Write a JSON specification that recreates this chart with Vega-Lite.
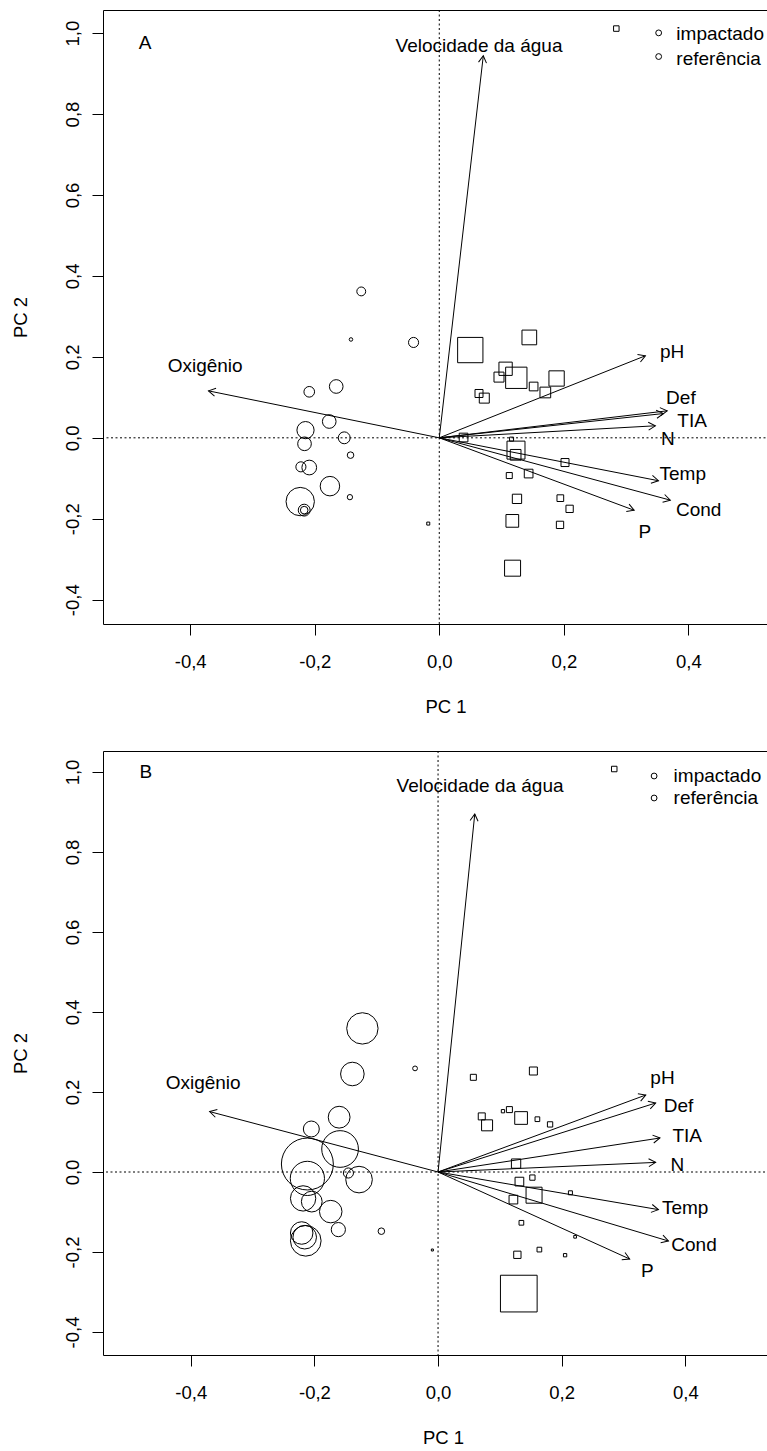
{
  "$schema": "https://vega.github.io/schema/vega-lite/v6.json",
  "padding": {"left": 10, "top": 9, "right": 0, "bottom": 0},
  "spacing": 33,
  "config": {
    "font": "Liberation Sans",
    "view": {"stroke": "black", "strokeWidth": 1},
    "axis": {"grid": false, "domain": false, "ticks": true, "tickSize": 11, "tickColor": "black", "tickWidth": 1, "labelColor": "black", "labelFontSize": 18.5, "titleColor": "black", "titleFontSize": 18.5, "titleFontWeight": "normal", "labelFont": "Liberation Sans", "titleFont": "Liberation Sans", "labelOverlap": false, "labelFlush": false, "labelBound": false,
      "labelExpr": "replace(replace(format(datum.value, '.1f'), '.', ','), '\u2212', '-')"},
    "axisX": {"labelPadding": 17, "titlePadding": 27},
    "axisY": {"labelAngle": -90, "labelAlign": "center", "labelBaseline": "bottom", "labelPadding": 10, "titlePadding": 33}
  },
  "datasets": {
    "refA": [
      {"x": -0.1253, "y": 0.3617, "tam": 10},
      {"x": -0.1418, "y": 0.243, "tam": 4},
      {"x": -0.0413, "y": 0.2356, "tam": 11.4},
      {"x": -0.1655, "y": 0.1268, "tam": 15.4},
      {"x": -0.2088, "y": 0.1137, "tam": 12},
      {"x": -0.1767, "y": 0.0403, "tam": 15.4},
      {"x": -0.2148, "y": 0.019, "tam": 19.4},
      {"x": -0.1526, "y": 0.0, "tam": 13.4},
      {"x": -0.2164, "y": -0.0148, "tam": 15.4},
      {"x": -0.1425, "y": -0.0428, "tam": 7.4},
      {"x": -0.2222, "y": -0.0717, "tam": 11.4},
      {"x": -0.2088, "y": -0.0734, "tam": 16.6},
      {"x": -0.1756, "y": -0.1194, "tam": 22},
      {"x": -0.1435, "y": -0.1466, "tam": 6},
      {"x": -0.2233, "y": -0.1575, "tam": 32},
      {"x": -0.2169, "y": -0.1787, "tam": 13.4},
      {"x": -0.2169, "y": -0.1787, "tam": 8.6}
    ],
    "impA": [
      {"x": 0.2843, "y": 1.0111, "tam": 5.5},
      {"x": 0.0498, "y": 0.2168, "tam": 25.3},
      {"x": 0.1446, "y": 0.248, "tam": 14.7},
      {"x": 0.1065, "y": 0.1706, "tam": 13.3},
      {"x": 0.1237, "y": 0.1483, "tam": 21.3},
      {"x": 0.0959, "y": 0.150, "tam": 10},
      {"x": 0.1515, "y": 0.1268, "tam": 8.7},
      {"x": 0.1884, "y": 0.1466, "tam": 15.3},
      {"x": 0.1703, "y": 0.112, "tam": 10.7},
      {"x": 0.0638, "y": 0.1095, "tam": 8},
      {"x": 0.0723, "y": 0.0981, "tam": 10},
      {"x": 0.039, "y": 0.0007, "tam": 8.7},
      {"x": 0.1161, "y": -0.0032, "tam": 4},
      {"x": 0.1232, "y": -0.0304, "tam": 18},
      {"x": 0.1226, "y": -0.042, "tam": 10.7},
      {"x": 0.2019, "y": -0.0611, "tam": 8},
      {"x": 0.1124, "y": -0.0932, "tam": 6},
      {"x": 0.1435, "y": -0.0883, "tam": 8.7},
      {"x": 0.1248, "y": -0.1508, "tam": 9.3},
      {"x": 0.1944, "y": -0.1491, "tam": 6.7},
      {"x": 0.2093, "y": -0.1755, "tam": 7.3},
      {"x": 0.1173, "y": -0.2052, "tam": 12.7},
      {"x": 0.1939, "y": -0.2151, "tam": 7.3},
      {"x": 0.1177, "y": -0.3221, "tam": 16},
      {"x": -0.0177, "y": -0.2119, "tam": 3}
    ],
    "arrA": [
      {"var": "Velocidade da água", "x": 0.0707, "y": 0.944},
      {"var": "Oxigênio", "x": -0.3706, "y": 0.116},
      {"var": "pH", "x": 0.331, "y": 0.2027},
      {"var": "Def", "x": 0.360, "y": 0.060},
      {"var": "TIA", "x": 0.366, "y": 0.0667},
      {"var": "N", "x": 0.347, "y": 0.0297},
      {"var": "Temp", "x": 0.352, "y": -0.106},
      {"var": "Cond", "x": 0.371, "y": -0.154},
      {"var": "P", "x": 0.313, "y": -0.179}
    ],
    "labA": [
      {"var": "Velocidade da água", "x": 0.0638, "y": 0.969},
      {"var": "Oxigênio", "x": -0.376, "y": 0.178},
      {"var": "pH", "x": 0.374, "y": 0.211},
      {"var": "Def", "x": 0.388, "y": 0.0996},
      {"var": "TIA", "x": 0.406, "y": 0.042},
      {"var": "N", "x": 0.367, "y": -0.003},
      {"var": "Temp", "x": 0.391, "y": -0.090},
      {"var": "Cond", "x": 0.4165, "y": -0.179},
      {"var": "P", "x": 0.330, "y": -0.232},
      {"var": "A", "x": -0.4723, "y": 0.9765}
    ],
    "legSymA": [
      {"x": 0.3523, "y": 1.0005},
      {"x": 0.3523, "y": 0.942}
    ],
    "legTxtA": [
      {"x": 0.3807, "y": 0.998, "grupo": "impactado"},
      {"x": 0.3807, "y": 0.936, "grupo": "referência"}
    ],
    "refB": [
      {"x": -0.1224, "y": 0.359, "tam": 35.4},
      {"x": -0.1386, "y": 0.245, "tam": 26.6},
      {"x": -0.0372, "y": 0.259, "tam": 5.4},
      {"x": -0.160, "y": 0.137, "tam": 24.6},
      {"x": -0.205, "y": 0.1075, "tam": 18},
      {"x": -0.1585, "y": 0.0575, "tam": 41.4},
      {"x": -0.2114, "y": 0.020, "tam": 58.6},
      {"x": -0.2114, "y": -0.016, "tam": 38.6},
      {"x": -0.145, "y": -0.0025, "tam": 11.4},
      {"x": -0.1278, "y": -0.019, "tam": 30},
      {"x": -0.2183, "y": -0.066, "tam": 28.6},
      {"x": -0.2043, "y": -0.074, "tam": 23.4},
      {"x": -0.1736, "y": -0.099, "tam": 25.4},
      {"x": -0.1613, "y": -0.144, "tam": 16},
      {"x": -0.2206, "y": -0.1525, "tam": 25.4},
      {"x": -0.214, "y": -0.172, "tam": 34.6},
      {"x": -0.2157, "y": -0.163, "tam": 26.6},
      {"x": -0.0917, "y": -0.148, "tam": 7.4}
    ],
    "impB": [
      {"x": 0.285, "y": 1.0075, "tam": 5.5},
      {"x": 0.1542, "y": 0.2525, "tam": 8},
      {"x": 0.0571, "y": 0.2367, "tam": 6},
      {"x": 0.0707, "y": 0.139, "tam": 7},
      {"x": 0.0793, "y": 0.1167, "tam": 11},
      {"x": 0.1154, "y": 0.156, "tam": 6},
      {"x": 0.105, "y": 0.152, "tam": 3.3},
      {"x": 0.1343, "y": 0.135, "tam": 12.7},
      {"x": 0.1607, "y": 0.132, "tam": 4.7},
      {"x": 0.1812, "y": 0.119, "tam": 5.3},
      {"x": 0.1262, "y": 0.021, "tam": 9.3},
      {"x": 0.1526, "y": -0.014, "tam": 5.3},
      {"x": 0.1316, "y": -0.024, "tam": 8.7},
      {"x": 0.1553, "y": -0.058, "tam": 16},
      {"x": 0.2141, "y": -0.052, "tam": 4},
      {"x": 0.1219, "y": -0.069, "tam": 8.7},
      {"x": 0.1348, "y": -0.127, "tam": 4.7},
      {"x": 0.2217, "y": -0.162, "tam": 2.7},
      {"x": 0.1283, "y": -0.207, "tam": 7.3},
      {"x": 0.1639, "y": -0.194, "tam": 4.7},
      {"x": 0.2055, "y": -0.208, "tam": 3.3},
      {"x": 0.1306, "y": -0.304, "tam": 36.7},
      {"x": -0.0092, "y": -0.195, "tam": 2}
    ],
    "arrB": [
      {"var": "Velocidade da água", "x": 0.0594, "y": 0.895},
      {"var": "Oxigênio", "x": -0.3695, "y": 0.151},
      {"var": "pH", "x": 0.336, "y": 0.1925},
      {"var": "Def", "x": 0.352, "y": 0.1725},
      {"var": "TIA", "x": 0.359, "y": 0.085},
      {"var": "N", "x": 0.352, "y": 0.024},
      {"var": "Temp", "x": 0.3565, "y": -0.094},
      {"var": "Cond", "x": 0.3727, "y": -0.1725},
      {"var": "P", "x": 0.310, "y": -0.2175}
    ],
    "labB": [
      {"var": "Velocidade da água", "x": 0.068, "y": 0.965},
      {"var": "Oxigênio", "x": -0.380, "y": 0.2225},
      {"var": "pH", "x": 0.363, "y": 0.234},
      {"var": "Def", "x": 0.389, "y": 0.166},
      {"var": "TIA", "x": 0.403, "y": 0.089},
      {"var": "N", "x": 0.387, "y": 0.0175},
      {"var": "Temp", "x": 0.3997, "y": -0.091},
      {"var": "Cond", "x": 0.414, "y": -0.1825},
      {"var": "P", "x": 0.3387, "y": -0.248},
      {"var": "B", "x": -0.4725, "y": 1.0}
    ],
    "legSymB": [
      {"x": 0.3495, "y": 0.99},
      {"x": 0.3495, "y": 0.935}
    ],
    "legTxtB": [
      {"x": 0.381, "y": 0.99, "grupo": "impactado"},
      {"x": 0.381, "y": 0.935, "grupo": "referência"}
    ]
  },
  "vconcat": [
    {
      "width": 685,
      "height": 614,
      "resolve": {"scale": {"size": "independent"}},
      "layer": [
        {
          "data": {"values": [{}]},
          "mark": {"type": "rule", "color": "black", "strokeWidth": 1, "strokeDash": [2, 2.5]},
          "encoding": {"y": {"datum": 0, "type": "quantitative", "scale": {"domain": [-0.46, 1.057], "nice": false, "zero": false}, "axis": {"title": "PC 2", "values": [-0.4, -0.2, 0, 0.2, 0.4, 0.6, 0.8, 1.0]}}}
        },
        {
          "data": {"values": [{}]},
          "mark": {"type": "rule", "color": "black", "strokeWidth": 1, "strokeDash": [2, 2.5]},
          "encoding": {"x": {"datum": 0, "type": "quantitative", "scale": {"domain": [-0.54, 0.56], "nice": false, "zero": false}, "axis": {"title": "PC 1", "values": [-0.4, -0.2, 0, 0.2, 0.4]}}}
        },
        {
          "data": {"name": "arrA"},
          "mark": {"type": "rule", "color": "black", "strokeWidth": 1},
          "encoding": {
            "x": {"field": "x", "type": "quantitative", "scale": {"domain": [-0.54, 0.56], "nice": false, "zero": false}, "axis": {"title": "PC 1", "values": [-0.4, -0.2, 0, 0.2, 0.4]}},
            "y": {"field": "y", "type": "quantitative", "scale": {"domain": [-0.46, 1.057], "nice": false, "zero": false}, "axis": {"title": "PC 2", "values": [-0.4, -0.2, 0, 0.2, 0.4, 0.6, 0.8, 1.0]}},
            "x2": {"datum": 0},
            "y2": {"datum": 0}
          }
        },
        {
          "data": {"name": "arrA"},
          "transform": [{"calculate": "atan2(datum.x * 622.5, datum.y * 404.5) * 180 / PI", "as": "ang"}],
          "mark": {"type": "point", "shape": "M -0.5 0.866 L 0 0 L 0.5 0.866", "filled": false, "stroke": "black", "strokeWidth": 1, "opacity": 1, "size": 256},
          "encoding": {
            "x": {"field": "x", "type": "quantitative", "scale": {"domain": [-0.54, 0.56], "nice": false, "zero": false}, "axis": {"title": "PC 1", "values": [-0.4, -0.2, 0, 0.2, 0.4]}},
            "y": {"field": "y", "type": "quantitative", "scale": {"domain": [-0.46, 1.057], "nice": false, "zero": false}, "axis": {"title": "PC 2", "values": [-0.4, -0.2, 0, 0.2, 0.4, 0.6, 0.8, 1.0]}},
            "angle": {"field": "ang", "type": "quantitative", "scale": null}
          }
        },
        {
          "data": {"name": "labA"},
          "mark": {"type": "text", "font": "Liberation Sans", "fontSize": 19, "color": "black", "align": "center", "baseline": "middle"},
          "encoding": {
            "x": {"field": "x", "type": "quantitative", "scale": {"domain": [-0.54, 0.56], "nice": false, "zero": false}, "axis": {"title": "PC 1", "values": [-0.4, -0.2, 0, 0.2, 0.4]}},
            "y": {"field": "y", "type": "quantitative", "scale": {"domain": [-0.46, 1.057], "nice": false, "zero": false}, "axis": {"title": "PC 2", "values": [-0.4, -0.2, 0, 0.2, 0.4, 0.6, 0.8, 1.0]}},
            "text": {"field": "var"}
          }
        },
        {
          "data": {"name": "refA"},
          "mark": {"type": "point", "shape": "circle", "filled": false, "stroke": "black", "strokeWidth": 1, "opacity": 1},
          "encoding": {
            "x": {"field": "x", "type": "quantitative", "scale": {"domain": [-0.54, 0.56], "nice": false, "zero": false}, "axis": {"title": "PC 1", "values": [-0.4, -0.2, 0, 0.2, 0.4]}},
            "y": {"field": "y", "type": "quantitative", "scale": {"domain": [-0.46, 1.057], "nice": false, "zero": false}, "axis": {"title": "PC 2", "values": [-0.4, -0.2, 0, 0.2, 0.4, 0.6, 0.8, 1.0]}},
            "size": {"field": "tam", "type": "quantitative", "scale": {"type": "pow", "exponent": 2, "domain": [0, 60], "range": [0, 2827.4]}, "legend": null}
          }
        },
        {
          "data": {"name": "impA"},
          "mark": {"type": "point", "shape": "square", "filled": false, "stroke": "black", "strokeWidth": 1, "opacity": 1},
          "encoding": {
            "x": {"field": "x", "type": "quantitative", "scale": {"domain": [-0.54, 0.56], "nice": false, "zero": false}, "axis": {"title": "PC 1", "values": [-0.4, -0.2, 0, 0.2, 0.4]}},
            "y": {"field": "y", "type": "quantitative", "scale": {"domain": [-0.46, 1.057], "nice": false, "zero": false}, "axis": {"title": "PC 2", "values": [-0.4, -0.2, 0, 0.2, 0.4, 0.6, 0.8, 1.0]}},
            "size": {"field": "tam", "type": "quantitative", "scale": {"type": "pow", "exponent": 2, "domain": [0, 40], "range": [0, 1600]}, "legend": null}
          }
        },
        {
          "data": {"name": "legSymA"},
          "mark": {"type": "point", "shape": "circle", "filled": false, "stroke": "black", "strokeWidth": 1, "opacity": 1, "size": 34},
          "encoding": {
            "x": {"field": "x", "type": "quantitative", "scale": {"domain": [-0.54, 0.56], "nice": false, "zero": false}, "axis": {"title": "PC 1", "values": [-0.4, -0.2, 0, 0.2, 0.4]}},
            "y": {"field": "y", "type": "quantitative", "scale": {"domain": [-0.46, 1.057], "nice": false, "zero": false}, "axis": {"title": "PC 2", "values": [-0.4, -0.2, 0, 0.2, 0.4, 0.6, 0.8, 1.0]}}
          }
        },
        {
          "data": {"name": "legTxtA"},
          "mark": {"type": "text", "font": "Liberation Sans", "fontSize": 19, "color": "black", "align": "left", "baseline": "middle"},
          "encoding": {
            "x": {"field": "x", "type": "quantitative", "scale": {"domain": [-0.54, 0.56], "nice": false, "zero": false}, "axis": {"title": "PC 1", "values": [-0.4, -0.2, 0, 0.2, 0.4]}},
            "y": {"field": "y", "type": "quantitative", "scale": {"domain": [-0.46, 1.057], "nice": false, "zero": false}, "axis": {"title": "PC 2", "values": [-0.4, -0.2, 0, 0.2, 0.4, 0.6, 0.8, 1.0]}},
            "text": {"field": "grupo"}
          }
        }
      ]
    },
    {
      "width": 680,
      "height": 604,
      "resolve": {"scale": {"size": "independent"}},
      "layer": [
        {
          "data": {"values": [{}]},
          "mark": {"type": "rule", "color": "black", "strokeWidth": 1, "strokeDash": [2, 2.5]},
          "encoding": {"y": {"datum": 0, "type": "quantitative", "scale": {"domain": [-0.4575, 1.0525], "nice": false, "zero": false}, "axis": {"title": "PC 2", "values": [-0.4, -0.2, 0, 0.2, 0.4, 0.6, 0.8, 1.0]}}}
        },
        {
          "data": {"values": [{}]},
          "mark": {"type": "rule", "color": "black", "strokeWidth": 1, "strokeDash": [2, 2.5]},
          "encoding": {"x": {"datum": 0, "type": "quantitative", "scale": {"domain": [-0.542, 0.558], "nice": false, "zero": false}, "axis": {"title": "PC 1", "values": [-0.4, -0.2, 0, 0.2, 0.4]}}}
        },
        {
          "data": {"name": "arrB"},
          "mark": {"type": "rule", "color": "black", "strokeWidth": 1},
          "encoding": {
            "x": {"field": "x", "type": "quantitative", "scale": {"domain": [-0.542, 0.558], "nice": false, "zero": false}, "axis": {"title": "PC 1", "values": [-0.4, -0.2, 0, 0.2, 0.4]}},
            "y": {"field": "y", "type": "quantitative", "scale": {"domain": [-0.4575, 1.0525], "nice": false, "zero": false}, "axis": {"title": "PC 2", "values": [-0.4, -0.2, 0, 0.2, 0.4, 0.6, 0.8, 1.0]}},
            "x2": {"datum": 0},
            "y2": {"datum": 0}
          }
        },
        {
          "data": {"name": "arrB"},
          "transform": [{"calculate": "atan2(datum.x * 618, datum.y * 400) * 180 / PI", "as": "ang"}],
          "mark": {"type": "point", "shape": "M -0.5 0.866 L 0 0 L 0.5 0.866", "filled": false, "stroke": "black", "strokeWidth": 1, "opacity": 1, "size": 256},
          "encoding": {
            "x": {"field": "x", "type": "quantitative", "scale": {"domain": [-0.542, 0.558], "nice": false, "zero": false}, "axis": {"title": "PC 1", "values": [-0.4, -0.2, 0, 0.2, 0.4]}},
            "y": {"field": "y", "type": "quantitative", "scale": {"domain": [-0.4575, 1.0525], "nice": false, "zero": false}, "axis": {"title": "PC 2", "values": [-0.4, -0.2, 0, 0.2, 0.4, 0.6, 0.8, 1.0]}},
            "angle": {"field": "ang", "type": "quantitative", "scale": null}
          }
        },
        {
          "data": {"name": "labB"},
          "mark": {"type": "text", "font": "Liberation Sans", "fontSize": 19, "color": "black", "align": "center", "baseline": "middle"},
          "encoding": {
            "x": {"field": "x", "type": "quantitative", "scale": {"domain": [-0.542, 0.558], "nice": false, "zero": false}, "axis": {"title": "PC 1", "values": [-0.4, -0.2, 0, 0.2, 0.4]}},
            "y": {"field": "y", "type": "quantitative", "scale": {"domain": [-0.4575, 1.0525], "nice": false, "zero": false}, "axis": {"title": "PC 2", "values": [-0.4, -0.2, 0, 0.2, 0.4, 0.6, 0.8, 1.0]}},
            "text": {"field": "var"}
          }
        },
        {
          "data": {"name": "refB"},
          "mark": {"type": "point", "shape": "circle", "filled": false, "stroke": "black", "strokeWidth": 1, "opacity": 1},
          "encoding": {
            "x": {"field": "x", "type": "quantitative", "scale": {"domain": [-0.542, 0.558], "nice": false, "zero": false}, "axis": {"title": "PC 1", "values": [-0.4, -0.2, 0, 0.2, 0.4]}},
            "y": {"field": "y", "type": "quantitative", "scale": {"domain": [-0.4575, 1.0525], "nice": false, "zero": false}, "axis": {"title": "PC 2", "values": [-0.4, -0.2, 0, 0.2, 0.4, 0.6, 0.8, 1.0]}},
            "size": {"field": "tam", "type": "quantitative", "scale": {"type": "pow", "exponent": 2, "domain": [0, 60], "range": [0, 2827.4]}, "legend": null}
          }
        },
        {
          "data": {"name": "impB"},
          "mark": {"type": "point", "shape": "square", "filled": false, "stroke": "black", "strokeWidth": 1, "opacity": 1},
          "encoding": {
            "x": {"field": "x", "type": "quantitative", "scale": {"domain": [-0.542, 0.558], "nice": false, "zero": false}, "axis": {"title": "PC 1", "values": [-0.4, -0.2, 0, 0.2, 0.4]}},
            "y": {"field": "y", "type": "quantitative", "scale": {"domain": [-0.4575, 1.0525], "nice": false, "zero": false}, "axis": {"title": "PC 2", "values": [-0.4, -0.2, 0, 0.2, 0.4, 0.6, 0.8, 1.0]}},
            "size": {"field": "tam", "type": "quantitative", "scale": {"type": "pow", "exponent": 2, "domain": [0, 40], "range": [0, 1600]}, "legend": null}
          }
        },
        {
          "data": {"name": "legSymB"},
          "mark": {"type": "point", "shape": "circle", "filled": false, "stroke": "black", "strokeWidth": 1, "opacity": 1, "size": 34},
          "encoding": {
            "x": {"field": "x", "type": "quantitative", "scale": {"domain": [-0.542, 0.558], "nice": false, "zero": false}, "axis": {"title": "PC 1", "values": [-0.4, -0.2, 0, 0.2, 0.4]}},
            "y": {"field": "y", "type": "quantitative", "scale": {"domain": [-0.4575, 1.0525], "nice": false, "zero": false}, "axis": {"title": "PC 2", "values": [-0.4, -0.2, 0, 0.2, 0.4, 0.6, 0.8, 1.0]}}
          }
        },
        {
          "data": {"name": "legTxtB"},
          "mark": {"type": "text", "font": "Liberation Sans", "fontSize": 19, "color": "black", "align": "left", "baseline": "middle"},
          "encoding": {
            "x": {"field": "x", "type": "quantitative", "scale": {"domain": [-0.542, 0.558], "nice": false, "zero": false}, "axis": {"title": "PC 1", "values": [-0.4, -0.2, 0, 0.2, 0.4]}},
            "y": {"field": "y", "type": "quantitative", "scale": {"domain": [-0.4575, 1.0525], "nice": false, "zero": false}, "axis": {"title": "PC 2", "values": [-0.4, -0.2, 0, 0.2, 0.4, 0.6, 0.8, 1.0]}},
            "text": {"field": "grupo"}
          }
        }
      ]
    }
  ]
}
